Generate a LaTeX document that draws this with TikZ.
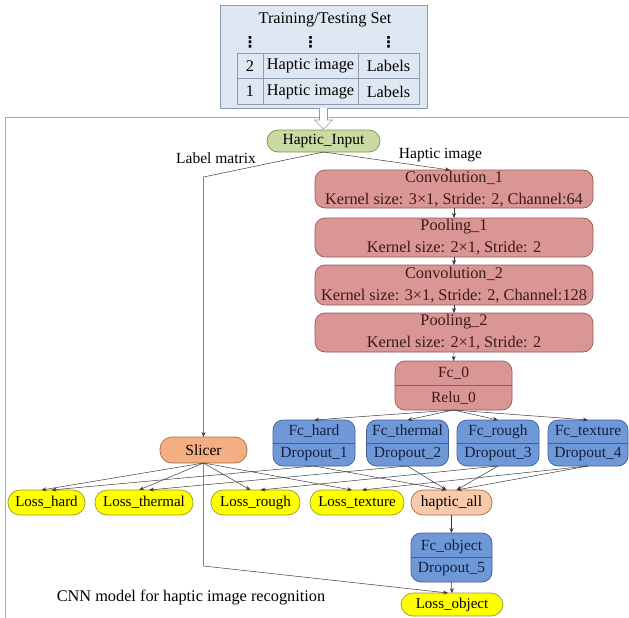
\documentclass[tikz,border=0pt]{standalone}
\usepackage{fontspec}
\setmainfont{Liberation Serif}
\newfontfamily\dejavu{DejaVu Sans}
\usetikzlibrary{arrows.meta,calc}
\definecolor{tblfill}{HTML}{DFE7F2}
\definecolor{tbldraw}{HTML}{8C9BB0}
\definecolor{ingreen}{HTML}{C9DBA3}
\definecolor{ingreendraw}{HTML}{7C9050}
\definecolor{redfill}{HTML}{D99694}
\definecolor{reddraw}{HTML}{955A58}
\definecolor{redtext}{HTML}{3C1A1A}
\definecolor{bluefill}{HTML}{6F98D8}
\definecolor{bluedraw}{HTML}{3F5F95}
\definecolor{bluetext}{HTML}{14213D}
\definecolor{orfill}{HTML}{F4AE82}
\definecolor{orlight}{HTML}{F8C9AA}
\definecolor{ordraw}{HTML}{A0704F}
\definecolor{lossfill}{HTML}{FFFF00}
\definecolor{lossdraw}{HTML}{9A9A30}
\definecolor{edgecol}{HTML}{3A3A3A}
\definecolor{framegray}{HTML}{A8A8A8}
\begin{document}
\begin{tikzpicture}[x=1pt,y=-1pt,
  font=\fontsize{15.5}{18}\selectfont,
  every node/.style={inner sep=0pt, outer sep=0pt},
  bigfont/.style={font=\fontsize{16.3}{18.5}\selectfont},
  cell/.style={draw=tbldraw, line width=0.7pt, minimum height=25.5, bigfont},
  layer/.style={draw=reddraw, fill=redfill, rounded corners=10, minimum width=278,
    align=center, line width=0.7pt, text=redtext, bigfont},
  twopart/.style={rounded corners=10, align=center, line width=0.7pt,
    path picture={\draw[draw=#1, line width=0.7pt] (path picture bounding box.west) -- (path picture bounding box.east);}},
  redtwo/.style={twopart=reddraw, draw=reddraw, fill=redfill, text=redtext},
  bluetwo/.style={twopart=bluedraw, draw=bluedraw, fill=bluefill, text=bluetext},
  pill/.style={rounded corners=12, line width=0.7pt, minimum height=25},
  lossnode/.style={pill, draw=lossdraw, fill=lossfill, text=black, font=\fontsize{15}{18}\selectfont},
  dotsnode/.style={font=\dejavu\bfseries\fontsize{15}{18}\selectfont},
  arr/.style={draw=edgecol, line width=0.5pt, -{Stealth[length=5pt,width=4pt]}}
]
\useasboundingbox (0,0) rectangle (629,618);

% outer frame
\draw[framegray, line width=0.8pt] (629,117) -- (5,117) -- (5,618);

% training / testing set table
\node[draw=tbldraw, fill=tblfill, line width=0.7pt, minimum width=207, minimum height=103] (tbl) at (323.5,56.5) {};
\node[bigfont] (ttl) at (325,20) {Training/Testing Set};
\node[dotsnode] (d1) at (250,42) {⋮};
\node[dotsnode] (d2) at (310.5,42) {⋮};
\node[dotsnode] (d3) at (388.5,42) {⋮};
\node[cell, minimum width=26] (c21) at (250,66) {2};
\node[cell, minimum width=95] (c22) at (310.5,66) {Haptic image};
\node[cell, minimum width=61] (c23) at (388.5,66) {Labels};
\node[cell, minimum width=26] (c11) at (250,91.5) {1};
\node[cell, minimum width=95] (c12) at (310.5,91.5) {Haptic image};
\node[cell, minimum width=61] (c13) at (388.5,91.5) {Labels};

% input
\node[pill, draw=ingreendraw, fill=ingreen, rounded corners=11, minimum width=113, minimum height=22] (hin) at (323.5,141) {Haptic\_Input};

% hollow arrow
\draw[draw=tbldraw, fill=white, line width=0.7pt]
  ($(tbl.south)+(-4,0)$) -- ($(tbl.south)+(-4,12)$) -- ($(tbl.south)+(-9,12)$) --
  ($(hin.north)+(0,-1)$) -- ($(tbl.south)+(9,12)$) -- ($(tbl.south)+(4,12)$) -- ($(tbl.south)+(4,0)$);

\node (lm) at (216,158) {Label matrix};
\node (hi) at (440.5,155) {Haptic image};

% CNN layers
\node[layer, minimum height=38] (conv1) at (454,189) {Convolution\_1\\[3.5pt]Kernel size: 3×1, Stride: 2, Channel:64};
\node[layer, minimum height=39] (pool1) at (454,237.5) {Pooling\_1\\[3.5pt]Kernel size: 2×1, Stride: 2};
\node[layer, minimum height=40] (conv2) at (454,285) {Convolution\_2\\[3.5pt]Kernel size: 3×1, Stride: 2, Channel:128};
\node[layer, minimum height=39] (pool2) at (454,332.5) {Pooling\_2\\[3.5pt]Kernel size: 2×1, Stride: 2};
\node[redtwo, minimum width=117, minimum height=49] (fc0) at (453.5,385.5) {Fc\_0\\[7pt]Relu\_0};

\node[bluetwo, minimum width=82, minimum height=46] (fchard) at (314,443) {Fc\_hard\\[4pt]Dropout\_1};
\node[bluetwo, minimum width=82, minimum height=46] (fcthermal) at (407.5,443) {Fc\_thermal\\[4pt]Dropout\_2};
\node[bluetwo, minimum width=82, minimum height=46] (fcrough) at (498,443) {Fc\_rough\\[4pt]Dropout\_3};
\node[bluetwo, minimum width=80, minimum height=46] (fctexture) at (588,443) {Fc\_texture\\[4pt]Dropout\_4};

\node[pill, draw=ordraw, fill=orfill, minimum width=87, minimum height=26] (slicer) at (203.5,450) {Slicer};

\node[lossnode, minimum width=77] (losshard) at (46.5,502.5) {Loss\_hard};
\node[lossnode, minimum width=98] (lossthermal) at (144,502.5) {Loss\_thermal};
\node[lossnode, minimum width=89] (lossrough) at (255.5,502.5) {Loss\_rough};
\node[lossnode, minimum width=94] (losstexture) at (357,502.5) {Loss\_texture};
\node[pill, draw=ordraw, fill=orlight, minimum width=81] (hall) at (451.5,502.5) {haptic\_all};

\node[bluetwo, minimum width=81, minimum height=49] (fcobj) at (451.5,557.5) {Fc\_object\\[4pt]Dropout\_5};
\node[lossnode, minimum width=102, minimum height=23] (lossobj) at (452,604.5) {Loss\_object};

\node[bigfont] (cap) at (191,598) {CNN model for haptic image recognition};

% connectors
\coordinate (lbend) at (203.5,177);
\coordinate (sbend) at (203.5,566);
\draw[arr] (hin.south) -- (lbend) -- (slicer.north);
\draw[arr] (hin.south) -- ([xshift=-4pt]conv1.north);
\draw[arr] (conv1.south) -- (pool1.north);
\draw[arr] (pool1.south) -- (conv2.north);
\draw[arr] (conv2.south) -- (pool2.north);
\draw[arr] (pool2.south) -- (fc0.north);
\foreach \n in {fchard,fcthermal,fcrough,fctexture}
  \draw[arr] (fc0.south) -- (\n.north);
\foreach \n in {losshard,lossthermal,lossrough,losstexture}
  \draw[arr] (slicer.south) -- ([xshift=-5pt]\n.north);
\draw[arr] (fchard.south) -- ([xshift=5pt]losshard.north);
\draw[arr] (fcthermal.south) -- ([xshift=5pt]lossthermal.north);
\draw[arr] (fcrough.south) -- ([xshift=5pt]lossrough.north);
\draw[arr] (fctexture.south) -- ([xshift=5pt]losstexture.north);
\draw[arr] (fchard.south) -- ([xshift=-5pt]hall.north);
\draw[arr] (fcthermal.south) -- ([xshift=-5pt]hall.north);
\draw[arr] (fcrough.south) -- ([xshift=5pt]hall.north);
\draw[arr] (fctexture.south) -- ([xshift=5pt]hall.north);
\draw[arr] (slicer.south) -- (sbend) -- ([xshift=-4pt]lossobj.north);
\draw[arr] (hall.south) -- (fcobj.north);
\draw[arr] (fcobj.south) -- (lossobj.north);
\end{tikzpicture}
\end{document}
